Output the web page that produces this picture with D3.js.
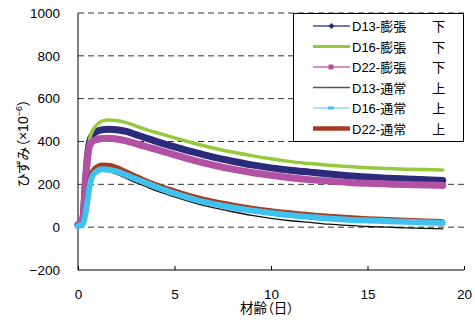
<!DOCTYPE html>
<html>
<head>
<meta charset="utf-8">
<script src="https://cdn.jsdelivr.net/npm/d3@7"></script>
<style>
  html, body { margin: 0; padding: 0; background: #fff; }
  svg { display: block; }
  text { font-family: "Liberation Sans", Arial, "Noto Sans CJK JP", sans-serif; fill: #000; }
  .cjk { font-family: "Liberation Sans", "Noto Sans CJK JP", sans-serif; font-feature-settings: "palt"; }
</style>
</head>
<body>
<svg id="chart" width="475" height="322"></svg>
<script>
// Age in days at each reading
const days = [0, 0.25, 0.4, 0.5, 0.6, 0.75, 1.0, 1.25, 1.6, 2, 2.5, 3, 3.5, 4, 4.5, 5,
              6, 7, 8, 9, 10, 11, 12, 13, 14, 15, 16, 17, 18, 18.9];

// Strain (×10^-6) for each gauge
const d13Exp = [10, 40, 230, 340, 400, 430, 448, 455, 457, 455, 447, 432, 417, 402, 388, 375,
                350, 327, 308, 291, 277, 266, 257, 248, 240, 234, 229, 225, 221, 218];
const d16Exp = [5, 30, 200, 340, 410, 450, 480, 495, 500, 498, 488, 472, 457, 443, 430, 417,
                392, 370, 351, 334, 319, 306, 297, 289, 283, 278, 274, 271, 269, 267];
const d22Exp = [10, 40, 230, 330, 380, 400, 410, 414, 415, 412, 403, 390, 377, 364, 351, 338,
                312, 290, 271, 255, 242, 231, 222, 215, 209, 205, 202, 199, 197, 195];
const d13Nor = [5, 15, 70, 130, 185, 232, 255, 262, 260, 248, 228, 208, 190, 172, 156, 141,
                114, 91, 72, 55, 41, 30, 22, 14, 8, 3, 0, -3, -6, -8];
const d16Nor = [5, 15, 70, 130, 190, 240, 262, 270, 268, 260, 243, 225, 207, 190, 173, 158,
                130, 109, 92, 78, 66, 56, 48, 41, 35, 31, 28, 25, 22, 20];
const d22Nor = [5, 20, 90, 160, 222, 262, 284, 291, 290, 280, 260, 239, 219, 201, 185, 171,
                144, 122, 105, 90, 78, 68, 59, 52, 46, 41, 37, 33, 30, 27];

const seriesNames = ["D13-膨張　　下", "D16-膨張　　下", "D22-膨張　　下",
                     "D13-通常　　上", "D16-通常　　上", "D22-通常　　上"];
const xTicks = [0, 5, 10, 15, 20];
const yTicks = [-200, 0, 200, 400, 600, 800, 1000];

const series = [
  { name: seriesNames[0], values: d13Exp, color: "#2c2b7b", width: 7,   legendColor: "#4a4a96", legendWidth: 1.5, marker: "diamond", z: 0 },
  { name: seriesNames[1], values: d16Exp, color: "#96c93d", width: 3.5, legendColor: "#96c93d", legendWidth: 3,   marker: null,      z: 1 },
  { name: seriesNames[2], values: d22Exp, color: "#b352a4", width: 7,   legendColor: "#c06ab3", legendWidth: 1.5, marker: "square",  z: 2 },
  { name: seriesNames[3], values: d13Nor, color: "#111111", width: 1.3, legendColor: "#555555", legendWidth: 1.5, marker: null,      z: 3 },
  { name: seriesNames[4], values: d16Nor, color: "#3ec2ef", width: 6,   legendColor: "#8fd8f2", legendWidth: 1.5, marker: "dash",    z: 5 },
  { name: seriesNames[5], values: d22Nor, color: "#a63c22", width: 4.5, legendColor: "#a63c22", legendWidth: 4.5, marker: null,      z: 4 }
];

const svg = d3.select("#chart");
const x = d3.scaleLinear().domain([0, 20]).range([78, 464]);
const y = d3.scaleLinear().domain([-200, 1000]).range([270, 13]);

// Dashed horizontal gridlines
svg.append("g").selectAll("line")
  .data(yTicks.filter(v => v >= 0))
  .join("line")
  .attr("x1", x(0)).attr("x2", x(20))
  .attr("y1", d => y(d)).attr("y2", d => y(d))
  .attr("stroke", "#333").attr("stroke-width", 1)
  .attr("stroke-dasharray", "6,4");

// Axes
const xAxis = d3.axisBottom(x).tickValues(xTicks).tickSize(-4).tickPadding(0).tickFormat(d3.format("d"));
const gx = svg.append("g").attr("transform", `translate(0,${y(-200)})`).call(xAxis);
gx.select(".domain").attr("d", `M${x(0)},0H${x(20)}`).attr("stroke", "#000");
gx.selectAll(".tick line").attr("stroke", "#000");
gx.selectAll(".tick text").attr("font-size", 13.5).attr("dy", null).attr("y", 29);

const yAxis = d3.axisLeft(y).tickValues(yTicks).tickSize(0).tickPadding(18).tickFormat(d => d < 0 ? "−" + Math.abs(d) : d);
const gy = svg.append("g").attr("transform", `translate(${x(0)},0)`).call(yAxis);
gy.select(".domain").attr("d", `M0,${y(1000)}V${y(-200)}`).attr("stroke", "#000");
gy.selectAll(".tick text").attr("font-size", 13.5);

// Strain curves
const line = d3.line()
  .x((d, i) => x(days[i]))
  .y(d => y(d))
  .curve(d3.curveMonotoneX);

svg.append("g").selectAll("path")
  .data(series.slice().sort((a, b) => a.z - b.z))
  .join("path")
  .attr("d", d => line(d.values))
  .attr("fill", "none")
  .attr("stroke", d => d.color)
  .attr("stroke-width", d => d.width)
  .attr("stroke-linejoin", "round")
  .attr("stroke-linecap", "round");

// Legend
const lg = svg.append("g");
lg.append("rect")
  .attr("x", 293.5).attr("y", 13.5).attr("width", 170).attr("height", 128)
  .attr("fill", "#fff").attr("stroke", "#000").attr("stroke-width", 1);

const rows = lg.selectAll("g.row")
  .data(series)
  .join("g").attr("class", "row")
  .attr("transform", (d, i) => `translate(0,${26 + i * 20.5})`);

rows.append("line")
  .attr("x1", 313).attr("x2", 350).attr("y1", 0).attr("y2", 0)
  .attr("stroke", d => d.legendColor)
  .attr("stroke-width", d => d.legendWidth);

rows.filter(d => d.marker === "diamond").append("path")
  .attr("d", "M331.5,-3L334.5,0L331.5,3L328.5,0Z").attr("fill", "#2c2b7b");
rows.filter(d => d.marker === "square").append("rect")
  .attr("x", 328.5).attr("y", -2.5).attr("width", 5).attr("height", 5).attr("fill", "#b352a4");
rows.filter(d => d.marker === "dash").append("rect")
  .attr("x", 328).attr("y", -1.5).attr("width", 6).attr("height", 3).attr("fill", "#3ec2ef");

rows.append("text")
  .attr("class", "cjk")
  .attr("x", 352).attr("y", 5)
  .attr("font-size", 13)
  .text(d => d.name);

// Axis titles
svg.append("text")
  .attr("class", "cjk")
  .attr("x", 267).attr("y", 313)
  .attr("text-anchor", "middle")
  .attr("font-size", 13.5)
  .text("材齢（日）");

const yt = svg.append("text")
  .attr("class", "cjk")
  .attr("transform", "translate(28,143) rotate(-90)")
  .attr("text-anchor", "middle")
  .attr("font-size", 14);
yt.append("tspan").text("ひずみ（×10");
yt.append("tspan").attr("font-size", 9).attr("dy", -6).text("−6");
yt.append("tspan").attr("dy", 6).text("）");
</script>
</body>
</html>
